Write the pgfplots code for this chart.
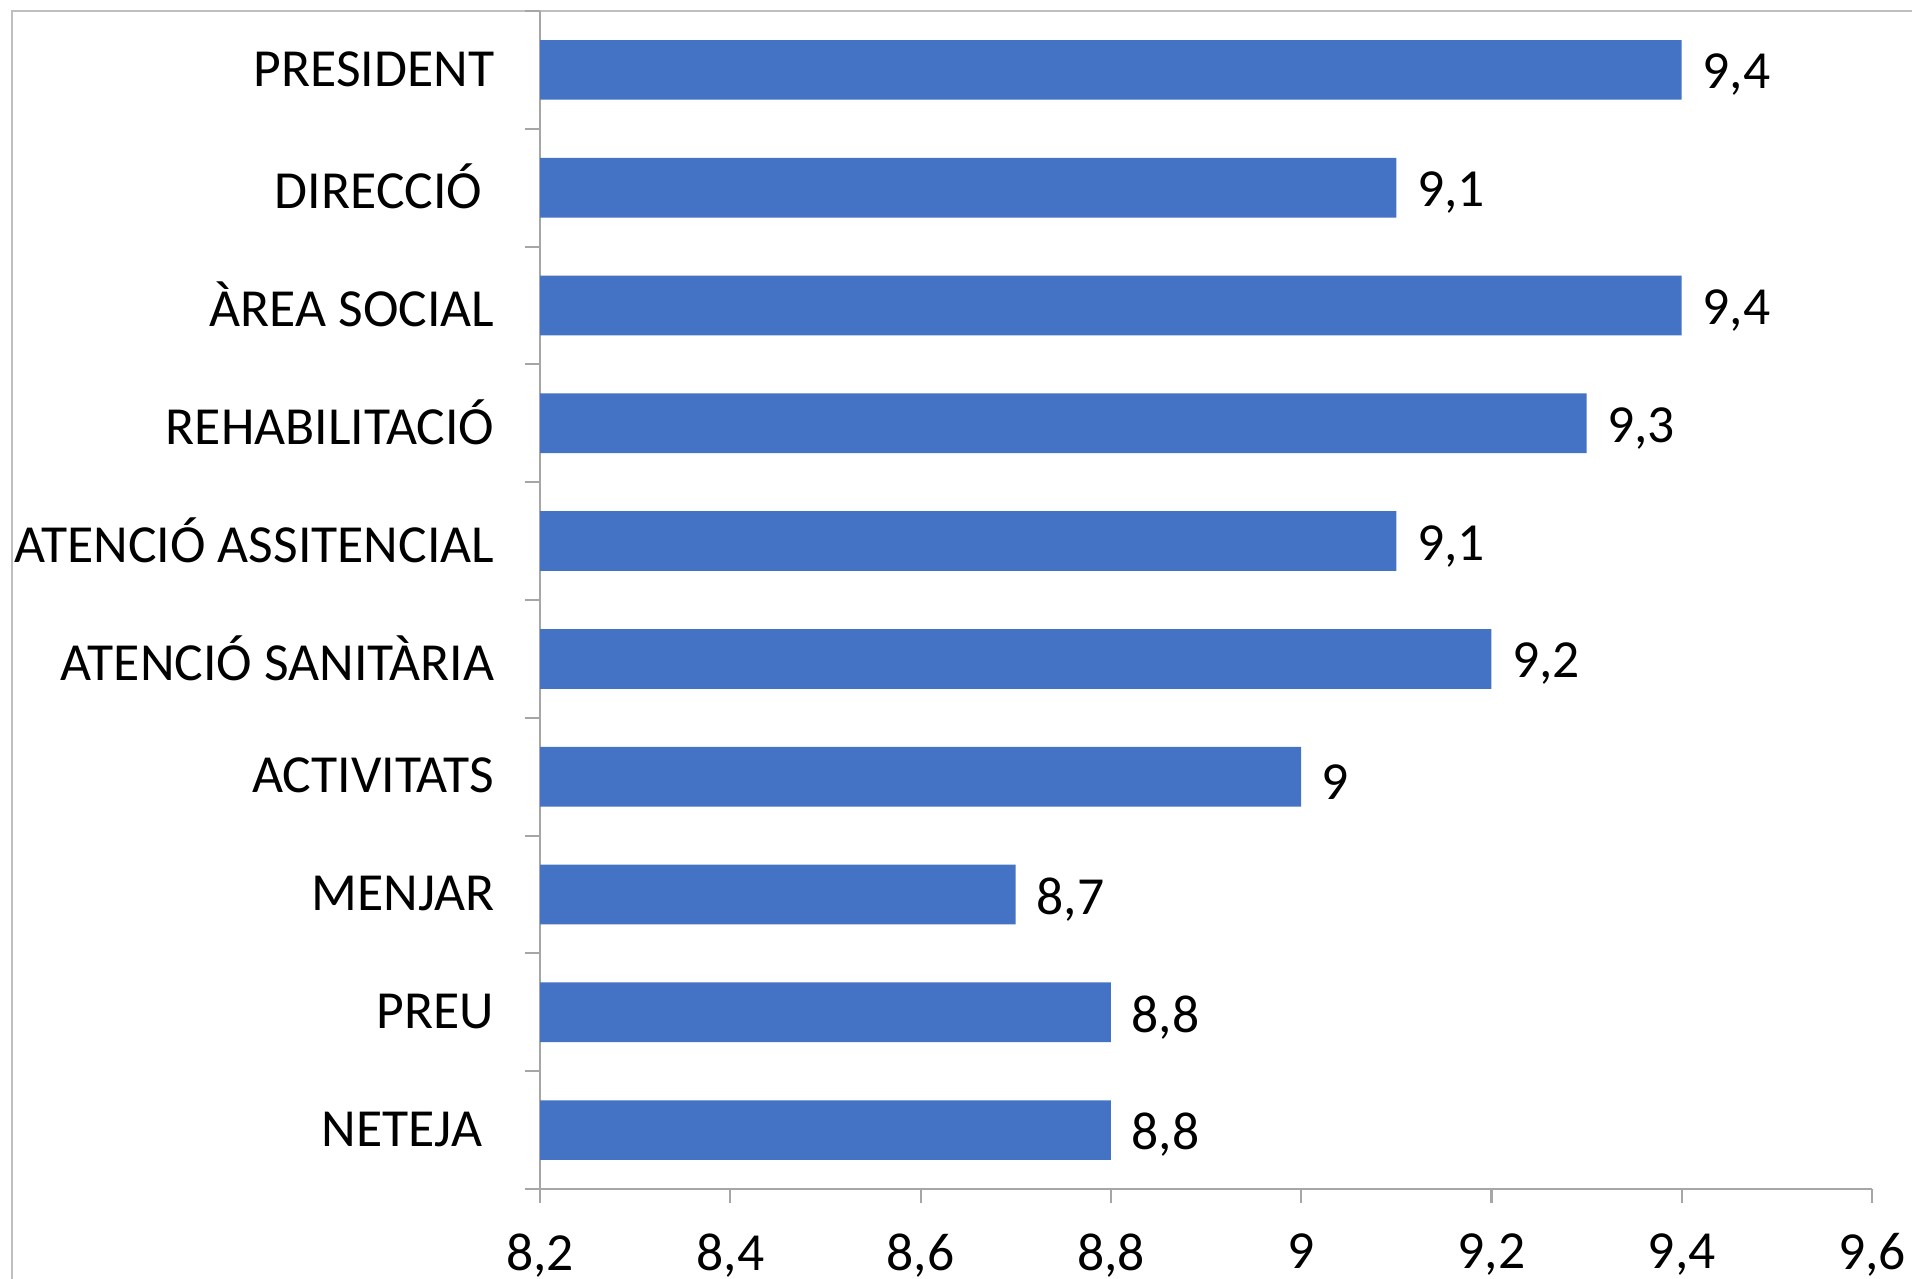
\documentclass[border=0pt]{standalone}
\usepackage{pgfplots}
\pgfplotsset{compat=1.18}
\usepackage{fontspec}
\setmainfont{Carlito}
\definecolor{barblue}{HTML}{4472C4}
\definecolor{axgray}{HTML}{A6A6A6}
\definecolor{framegray}{HTML}{BFBFBF}
\begin{document}
\fontsize{15.25}{18}\selectfont
\begin{tikzpicture}
\clip (0,0) rectangle (19.12,12.78);
\path[use as bounding box] (0,0) rectangle (19.12,12.78);
\draw[framegray, line width=0.6pt] (0.12,-1) -- (0.12,12.67) -- (20,12.67);
\begin{axis}[
  at={(5.40cm,0.89cm)}, anchor=south west,
  scale only axis, width=13.32cm, height=11.78cm,
  xmin=8.2, xmax=9.6, ymin=-0.5, ymax=9.5,
  xbar, bar width=0.597cm,
  axis x line*=bottom, axis y line*=left,
  axis line style={axgray, line width=0.8pt, -},
  tick align=outside,
  major tick length=0.14cm,
  minor tick length=0.15cm,
  tick style={axgray, line width=0.6pt},
  xtick={8.2,8.4,8.6,8.8,9.0,9.2,9.4,9.6},
  xticklabels={{8,2},{8,4},{8,6},{8,8},{9},{9,2},{9,4},{9,6}},
  ytick={0,1,2,3,4,5,6,7,8,9},
  yticklabels={{NETEJA\kern0.226em},{PREU},{MENJAR},{ACTIVITATS},{ATENCIÓ SANITÀRIA},{ATENCIÓ ASSITENCIAL},{REHABILITACIÓ},{ÀREA SOCIAL},{DIRECCIÓ\kern0.226em},{PRESIDENT}},
  minor ytick={-0.5,0.5,1.5,2.5,3.5,4.5,5.5,6.5,7.5,8.5,9.5},
  major y tick style={draw=none},
  y tick label style={anchor=east, inner sep=0pt, xshift=-0.31cm, yshift=0.01cm},
  x tick label style={anchor=north, inner sep=0pt, yshift=-0.30cm},
  /pgf/number format/assume math mode=true,
  point meta=x,
  nodes near coords={\pgfmathprintnumber[fixed, precision=1, use comma]{\pgfplotspointmeta}},
  every node near coord/.append style={anchor=west, inner sep=0pt, xshift=0.2cm, yshift=-0.05cm, black, font=\fontsize{15.25}{18}\selectfont},
]
\addplot[fill=barblue, draw=none] coordinates {
  (8.8,0) (8.8,1) (8.7,2) (9.0,3) (9.2,4) (9.1,5) (9.3,6) (9.4,7) (9.1,8) (9.4,9)
};
\end{axis}
\end{tikzpicture}
\end{document}
